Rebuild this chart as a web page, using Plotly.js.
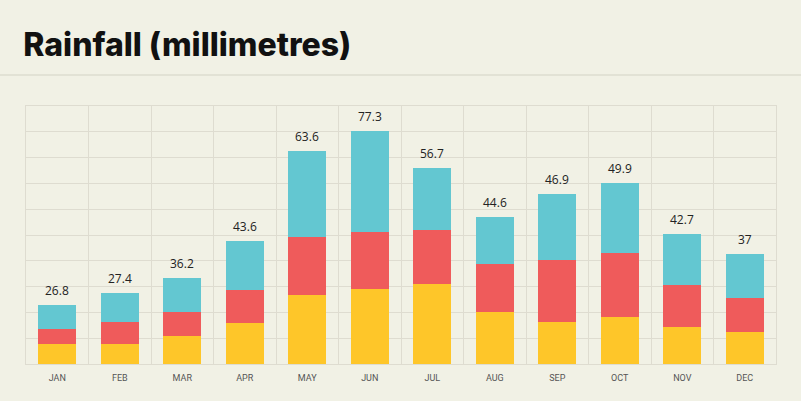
<!DOCTYPE html>
<html>
<head>
<meta charset="utf-8">
<script src="https://cdn.plot.ly/plotly-3.0.1.min.js"></script>
<style>html,body{margin:0;padding:0;background:#f1f1e5;}</style>
</head>
<body>
<div id="chart" style="width:801px;height:401px;"></div>
<script>
const months = ["JAN","FEB","MAR","APR","MAY","JUN","JUL","AUG","SEP","OCT","NOV","DEC"];
const yellowVals = [7.8, 7.8, 11.0, 15.9, 26.7, 29.0, 30.9, 20.3, 16.3, 18.1, 14.5, 12.4];
const redVals    = [5.9, 8.6, 9.1, 12.8, 22.6, 22.1, 21.0, 18.4, 24.0, 25.0, 16.3, 13.2];
const tealVals   = [9.2, 11.2, 13.3, 19.1, 33.2, 39.4, 24.0, 18.2, 25.7, 26.9, 19.4, 17.1];
const totalLabels = ["26.8","27.4","36.2","43.6","63.6","77.3","56.7","44.6","46.9","49.9","42.7","37"];

const stackTops = months.map((m, i) => yellowVals[i] + redVals[i] + tealVals[i]);

const barStyle = (c) => ({color: c, line: {width: 0}});
const traces = [
  {type: "bar", x: months, y: yellowVals, marker: barStyle("#fec629"), hoverinfo: "skip"},
  {type: "bar", x: months, y: redVals, marker: barStyle("#ef5b5b"), hoverinfo: "skip"},
  {type: "bar", x: months, y: tealVals, marker: barStyle("#63c7d1"), hoverinfo: "skip"}
];

const annotations = months.map((m, i) => ({
  x: m, y: stackTops[i], xref: "x", yref: "y",
  text: totalLabels[i], showarrow: false,
  yanchor: "bottom", yshift: 4,
  font: {family: "Open Sans, Noto Sans, sans-serif", size: 12, color: "#222222"}
}));

const layout = {
  width: 801, height: 401,
  margin: {l: 26, r: 25, t: 106, b: 37, pad: 0},
  paper_bgcolor: "#f1f1e5", plot_bgcolor: "#f1f1e5",
  barmode: "stack", bargap: 0.39,
  showlegend: false,
  title: {
    text: "Rainfall (millimetres)",
    x: 0.029, xanchor: "left", xref: "container",
    y: 0.888, yanchor: "middle", yref: "container",
    font: {family: "Inter, Noto Sans, sans-serif", size: 32, weight: 800, color: "#111111"}
  },
  xaxis: {
    type: "category", tickson: "boundaries", ticks: "",
    showgrid: true, gridcolor: "#dedcd0", gridwidth: 1,
    showline: true, linecolor: "#dedcd0", mirror: true,
    tickfont: {family: "Roboto, sans-serif", size: 9, color: "#555555"},
    ticklabelstandoff: 5, fixedrange: true
  },
  yaxis: {
    range: [0, 100], dtick: 10, showticklabels: false, ticks: "",
    showgrid: true, gridcolor: "#dedcd0", gridwidth: 1,
    zeroline: false, showline: true, linecolor: "#dedcd0", mirror: true,
    fixedrange: true
  },
  shapes: [{
    type: "line", xref: "paper", yref: "paper",
    x0: -0.04, x1: 1.04, y0: 1.12, y1: 1.12,
    line: {color: "#e2e2d5", width: 2}
  }],
  annotations: annotations
};

Plotly.newPlot("chart", traces, layout, {displayModeBar: false, staticPlot: true});
</script>
</body>
</html>
